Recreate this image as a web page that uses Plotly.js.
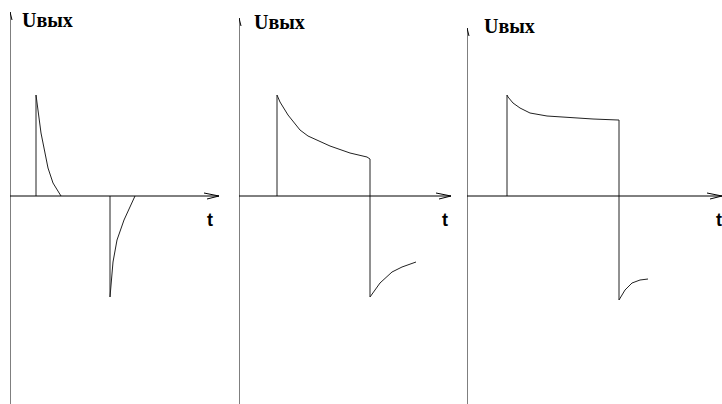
<!DOCTYPE html>
<html>
<head>
<meta charset="utf-8">
<script src="https://cdn.plot.ly/plotly-3.0.1.min.js"></script>
<style>html,body{margin:0;padding:0;background:#fff;}#chart{width:722px;height:404px;}</style>
</head>
<body>
<div id="chart"></div>
<script>
// Panel 1: short time constant (differentiated pulses)
const p1PosT = [26, 26, 31, 38, 43, 51];
const p1PosU = [0, 101, 63, 28, 13, 0];
const p1NegT = [100, 100, 103, 107, 114, 125];
const p1NegU = [0, -101, -66, -44, -24, 0];

// Panel 2: medium time constant
const p2T = [38, 38, 41, 49, 61, 69, 91, 111, 128, 131, 131, 141, 153, 163, 177];
const p2U = [0, 101, 94, 81, 66, 60, 50, 43, 39, 37, -101, -87, -76, -71, -66];

// Panel 3: long time constant
const p3T = [40, 40, 41, 46, 53, 63, 80, 93, 110, 126, 151, 152, 152, 158, 165, 173, 181];
const p3U = [0, 101, 99, 93, 88, 83, 80, 79, 78, 77, 76, 76, -104, -94, -87, -84, -83];

// Axis extents per panel (t end of time axis, U top of voltage axis)
const axisTEnd = [209, 212, 255];
const axisUTop = [184, 178, 168];
const uLabel = "Uвых";
const tLabel = "t";
const labelUPos = [[10, 176], [13, 174], [15, 170]];
const labelTPos = [[200, -24], [206, -24], [252, -24]];

const W = 722, H = 404;
const origins = [10, 239, 467];
const ends = [230, 460, 722];
const yRange = [-208, 196];
const lineCol = '#222';

const traces = [
  {x: p1PosT, y: p1PosU, xaxis: 'x', yaxis: 'y'},
  {x: p1NegT, y: p1NegU, xaxis: 'x', yaxis: 'y'},
  {x: p2T, y: p2U, xaxis: 'x2', yaxis: 'y'},
  {x: p3T, y: p3U, xaxis: 'x3', yaxis: 'y'}
].map(t => Object.assign(t, {type: 'scatter', mode: 'lines', line: {color: lineCol, width: 1}, hoverinfo: 'skip', cliponaxis: false}));

const xNames = ['x', 'x2', 'x3'];
const layout = {
  width: W, height: H,
  margin: {l: 0, r: 0, t: 0, b: 0},
  paper_bgcolor: '#fff', plot_bgcolor: '#fff',
  showlegend: false,
  yaxis: {domain: [0, 1], range: yRange, visible: false, fixedrange: true},
  shapes: [], annotations: []
};
for (let i = 0; i < 3; i++) {
  const key = i === 0 ? 'xaxis' : 'xaxis' + (i + 1);
  layout[key] = {domain: [origins[i] / W, ends[i] / W], range: [0, ends[i] - origins[i]], visible: false, anchor: 'y', fixedrange: true};
  const xr = xNames[i];
  // vertical (U) axis
  layout.shapes.push({type: 'line', xref: xr, yref: 'y', x0: 0, x1: 0, y0: yRange[0], y1: axisUTop[i], line: {color: '#000', width: 1}});
  // horizontal (t) axis
  layout.shapes.push({type: 'line', xref: xr, yref: 'y', x0: 0, x1: axisTEnd[i], y0: 0, y1: 0, line: {color: '#000', width: 1}});
  // arrowheads
  const ut = axisUTop[i];
  layout.shapes.push({type: 'path', xref: xr, yref: 'y', path: `M -2 ${ut - 8} L 0 ${ut} L 2 ${ut - 8}`, line: {color: '#000', width: 1}});
  const te = axisTEnd[i];
  layout.shapes.push({type: 'path', xref: xr, yref: 'y', path: `M ${te - 15} 3 L ${te} 0 L ${te - 12} -3`, line: {color: '#000', width: 1}});
  // labels
  layout.annotations.push({xref: xr, yref: 'y', x: labelUPos[i][0], y: labelUPos[i][1], text: '<b>' + uLabel + '</b>', showarrow: false, xanchor: 'left', yanchor: 'middle', font: {family: 'Liberation Serif, Times New Roman, serif', size: 20, color: '#000'}});
  layout.annotations.push({xref: xr, yref: 'y', x: labelTPos[i][0], y: labelTPos[i][1], text: '<b>' + tLabel + '</b>', showarrow: false, xanchor: 'center', yanchor: 'middle', font: {family: 'Liberation Sans, Arial, sans-serif', size: 18, color: '#000'}});
}

Plotly.newPlot('chart', traces, layout, {staticPlot: true, displayModeBar: false});
</script>
</body>
</html>
